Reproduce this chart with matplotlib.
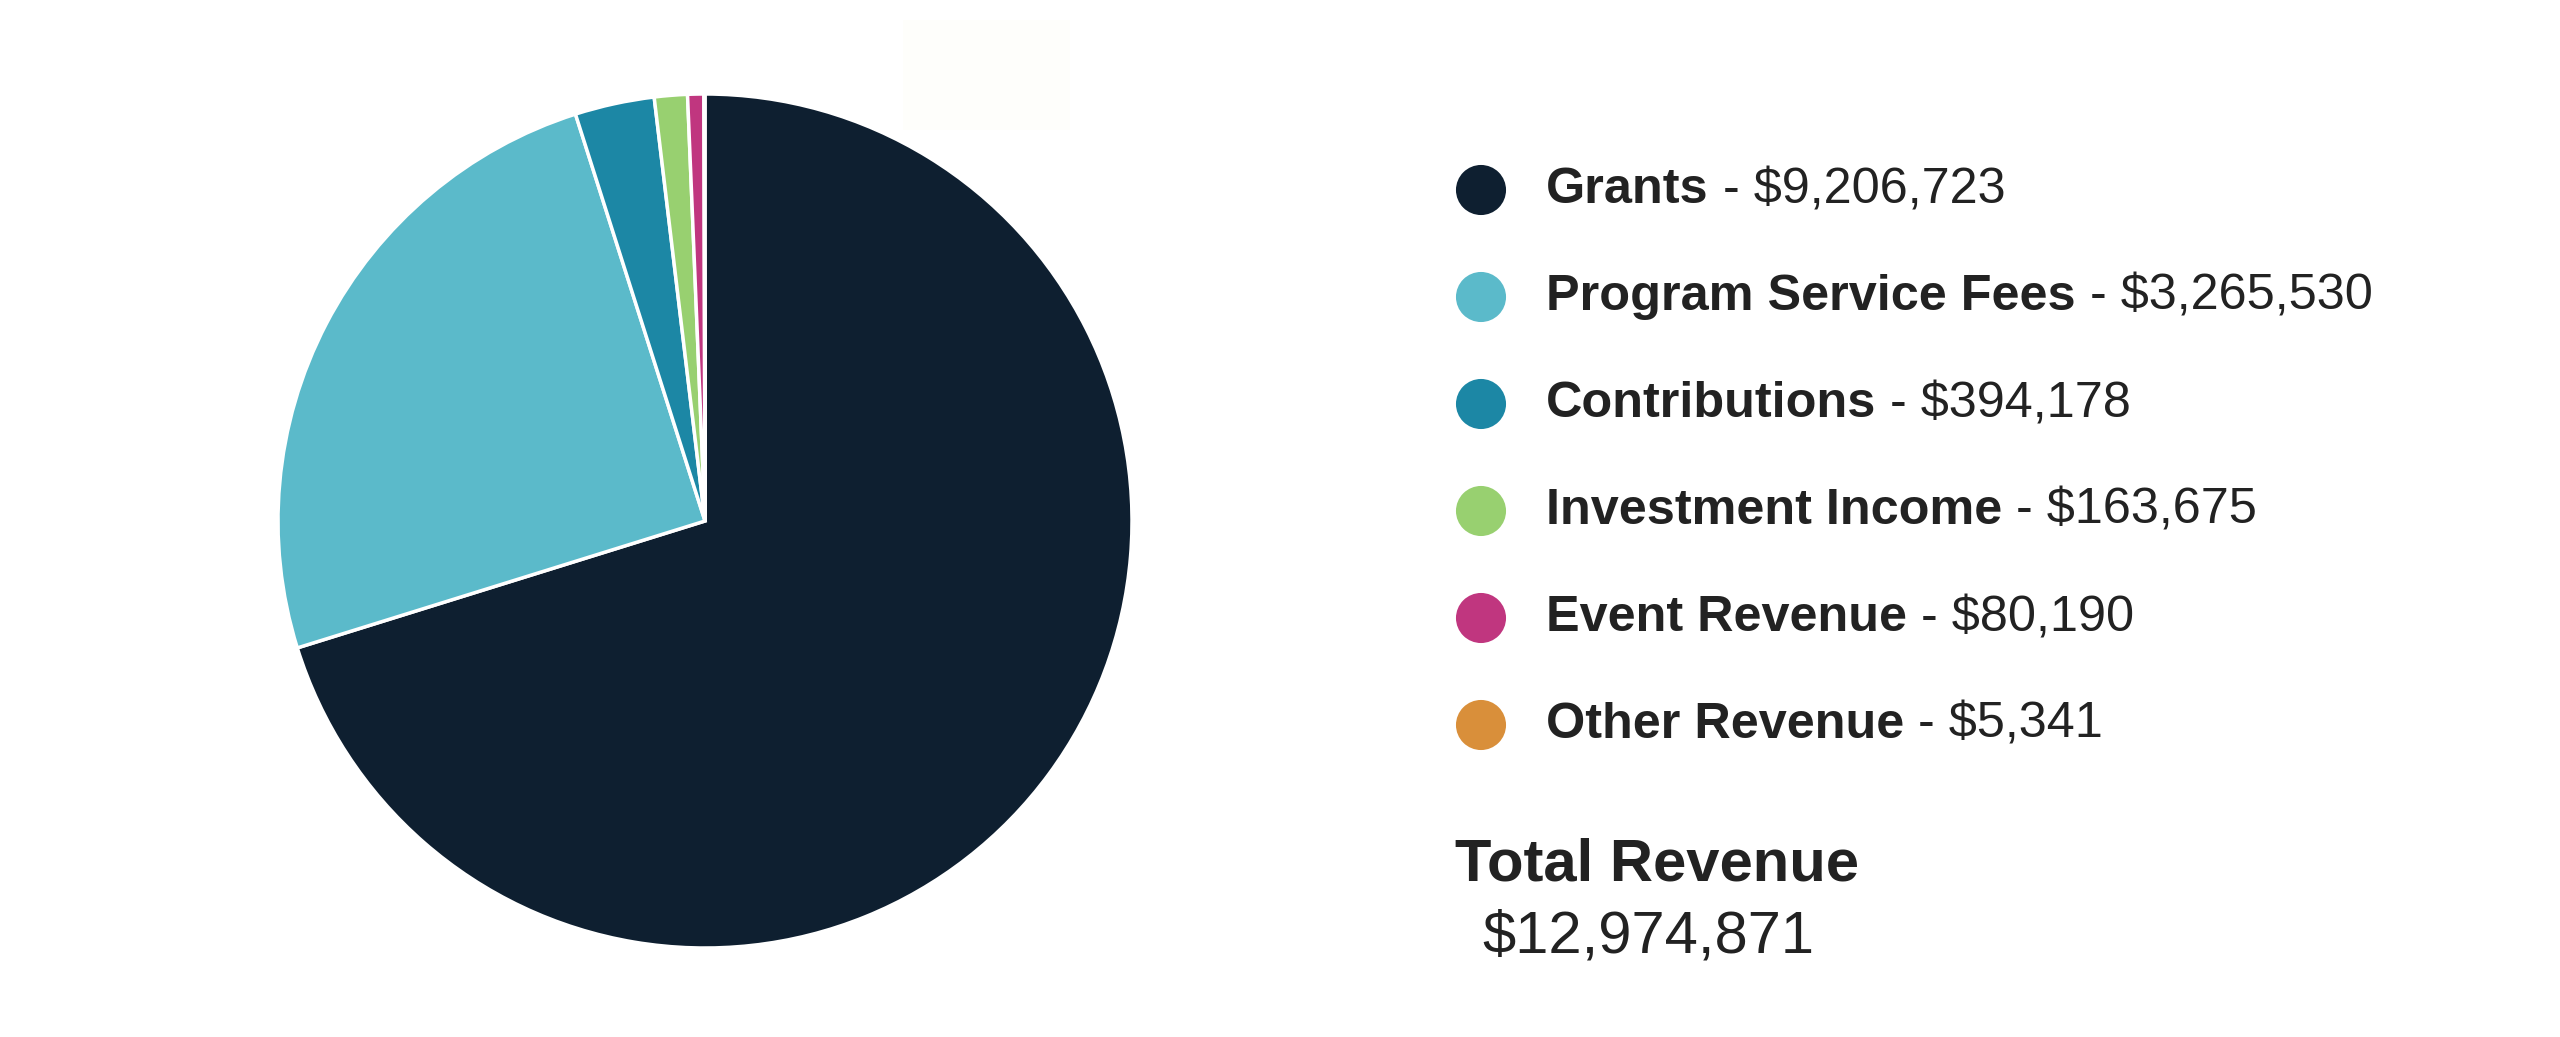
import matplotlib.pyplot as plt
from matplotlib.patches import Rectangle

plt.rcParams["font.family"] = ["Liberation Sans", "DejaVu Sans"]

categories = [
    "Grants",
    "Program Service Fees",
    "Contributions",
    "Investment Income",
    "Event Revenue",
    "Other Revenue",
]
amounts = [9206723, 3265530, 394178, 163675, 80190, 5341]
colours = ["#0e1f30", "#5bbaca", "#1c87a5", "#98d070", "#c0367f", "#d98f3a"]
total_label = "Total Revenue"
total_value = 12974871

W, H = 2560, 1037
fig = plt.figure(figsize=(W / 100, H / 100), dpi=100)

# pie, centred at about (705, 521) px with radius ~427 px
cx, cy, r = 705, 521, 427
ax = fig.add_axes([(cx - r) / W, (H - cy - r) / H, 2 * r / W, 2 * r / H])
ax.pie(
    amounts,
    colors=colours,
    startangle=90,
    counterclock=False,
    radius=1,
    wedgeprops={"edgecolor": "white", "linewidth": 2.5},
)
ax.set_xlim(-1, 1)
ax.set_ylim(-1, 1)
ax.set_aspect("auto")

# overlay in pixel coordinates for the legend block
lax = fig.add_axes([0, 0, 1, 1])
lax.set_xlim(0, W)
lax.set_ylim(H, 0)
lax.axis("off")

# faint off-white patch near the top of the pie (present in source)
lax.add_patch(Rectangle((903, 20), 167, 110, facecolor="#fefefb", edgecolor="none"))

fig.canvas.draw()
inv = lax.transData.inverted()

row0, step = 190, 107
for i, (name, val, col) in enumerate(zip(categories, amounts, colours)):
    y = row0 + i * step
    lax.scatter([1481], [y], s=1300, color=col, edgecolors="none")
    t = lax.text(1546, y, name, fontsize=36.3, fontweight="bold",
                 color="#222222", va="center", ha="left")
    bb = t.get_window_extent(renderer=fig.canvas.get_renderer())
    x_end = inv.transform((bb.x1, bb.y0))[0]
    lax.text(x_end, y, f" - ${val:,}", fontsize=36.3,
             color="#222222", va="center", ha="left")

lax.text(1455, 865, total_label, fontsize=43, fontweight="bold",
         color="#222222", va="center", ha="left")
lax.text(1482, 937, f"${total_value:,}", fontsize=43,
         color="#222222", va="center", ha="left")

fig.savefig("out.png", dpi=100, facecolor="white")
